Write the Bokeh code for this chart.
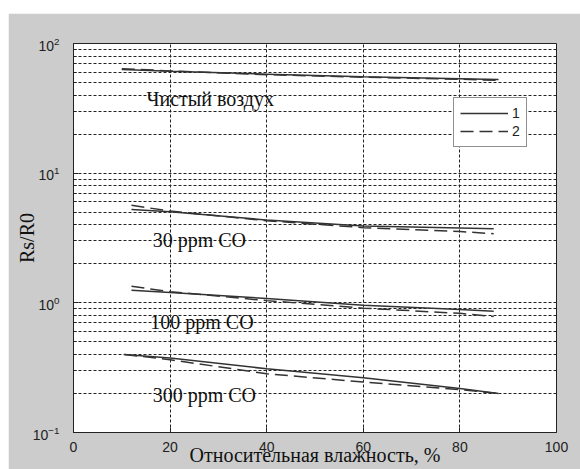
from bokeh.plotting import figure
from bokeh.models import Label, Legend, LegendItem, FixedTicker, Spacer
from bokeh.layouts import column, row
from bokeh.embed import file_html
from bokeh.resources import INLINE

# ---- data ----
x_ticks = [0, 20, 40, 60, 80, 100]
y_major = [0.1, 1, 10, 100]
y_minor = [k * 10.0 ** e for e in (-1, 0, 1) for k in range(2, 10)]

x_air = [10, 20, 40, 60, 80, 88]
air_1 = [63, 61, 58, 55.5, 53.5, 52.8]
air_2 = [64, 61.5, 57.5, 55, 53, 52]

x_30 = [12, 20, 40, 60, 80, 87]
co30_1 = [5.25, 5.05, 4.35, 3.92, 3.77, 3.72]
co30_2 = [5.65, 5.1, 4.3, 3.8, 3.55, 3.41]

x_100 = [12, 20, 40, 60, 80, 87]
co100_1 = [1.25, 1.2, 1.08, 0.96, 0.89, 0.86]
co100_2 = [1.34, 1.22, 1.04, 0.91, 0.83, 0.785]

x_300 = [10.5, 20, 40, 60, 80, 88]
co300_1 = [0.40, 0.375, 0.31, 0.264, 0.218, 0.20]
co300_2 = [0.40, 0.364, 0.284, 0.245, 0.214, 0.20]

series_labels = ["1", "2"]
group_texts = ["Чистый воздух", "30 ppm CO", "100 ppm CO", "300 ppm CO"]
group_text_x = [15.1, 16.4, 15.9, 16.4]
group_text_y = [37.6, 3.07, 0.717, 0.196]
x_label = "Относительная влажность, %"
y_label = "Rs/R0"

GRAY = "#cccccc"
LINE = "#333333"
INK = "#222222"
SERIF = "Liberation Serif"
SANS = "Liberation Sans"

p = figure(width=572, height=456, x_range=(0, 100), y_range=(0.1, 100),
           y_axis_type="log", output_backend="svg", toolbar_location=None,
           min_border_left=65, min_border_right=24, min_border_top=30,
           min_border_bottom=37)
p.border_fill_color = GRAY
p.background_fill_color = "white"
p.outline_line_color = INK
p.outline_line_width = 1

# axes
p.xaxis.ticker = FixedTicker(ticks=x_ticks)
p.yaxis.ticker = FixedTicker(ticks=y_major, minor_ticks=y_minor)
for ax in (p.xaxis[0], p.yaxis[0]):
    ax.axis_line_color = INK
    ax.major_tick_in = 5
    ax.major_tick_out = 0
    ax.minor_tick_in = 3
    ax.minor_tick_out = 0
    ax.major_tick_line_color = INK
    ax.minor_tick_line_color = INK
    ax.major_label_text_font = SANS
    ax.major_label_text_font_size = "14px"
    ax.major_label_text_color = INK
    ax.axis_label_text_font = SERIF
    ax.axis_label_text_font_size = "20px"
    ax.axis_label_text_font_style = "normal"
    ax.axis_label_text_color = "#111111"
p.xaxis.major_label_standoff = 9
p.yaxis.major_label_standoff = 14
p.xaxis.axis_label = x_label
p.yaxis.axis_label = y_label
p.xaxis.axis_label_standoff = -11
p.yaxis.axis_label_standoff = -8

# grid
p.xgrid.ticker = FixedTicker(ticks=x_ticks)
p.xgrid.grid_line_color = INK
p.xgrid.grid_line_dash = "3 2"
p.xgrid.grid_line_width = 1
p.ygrid.grid_line_color = INK
p.ygrid.grid_line_dash = "3 2"
p.ygrid.minor_grid_line_color = INK
p.ygrid.minor_grid_line_dash = "3 2"

# data lines
solid_rs = []
dash_rs = []
for xs, y1, y2 in ((x_air, air_1, air_2), (x_30, co30_1, co30_2),
                   (x_100, co100_1, co100_2), (x_300, co300_1, co300_2)):
    solid_rs.append(p.line(xs, y1, line_color=LINE, line_width=1.5))
    dash_rs.append(p.line(xs, y2, line_color=LINE, line_width=1.5,
                          line_dash="13 6"))

# group labels
for t, tx, ty in zip(group_texts, group_text_x, group_text_y):
    p.add_layout(Label(x=tx, y=ty, text=t, text_font=SERIF,
                       text_font_size="20px", text_color="#111111",
                       text_baseline="alphabetic", text_align="left"))

legend = Legend(items=[LegendItem(label=series_labels[0], renderers=[solid_rs[0]]),
                       LegendItem(label=series_labels[1], renderers=[dash_rs[0]])],
                location=(380, 285))
legend.border_line_color = INK
legend.border_line_width = 1
legend.background_fill_color = "white"
legend.background_fill_alpha = 1
legend.padding = 6
legend.spacing = 0
legend.margin = 0
legend.glyph_width = 48
legend.glyph_height = 18
legend.label_height = 18
legend.label_width = 8
legend.label_standoff = 4
legend.label_text_font = SANS
legend.label_text_font_size = "14px"
legend.label_text_color = INK
p.add_layout(legend)

layout = row(Spacer(width=8, height=469),
             column(Spacer(height=13, width=572), p))
open("out.html", "w").write(file_html(layout, INLINE))
